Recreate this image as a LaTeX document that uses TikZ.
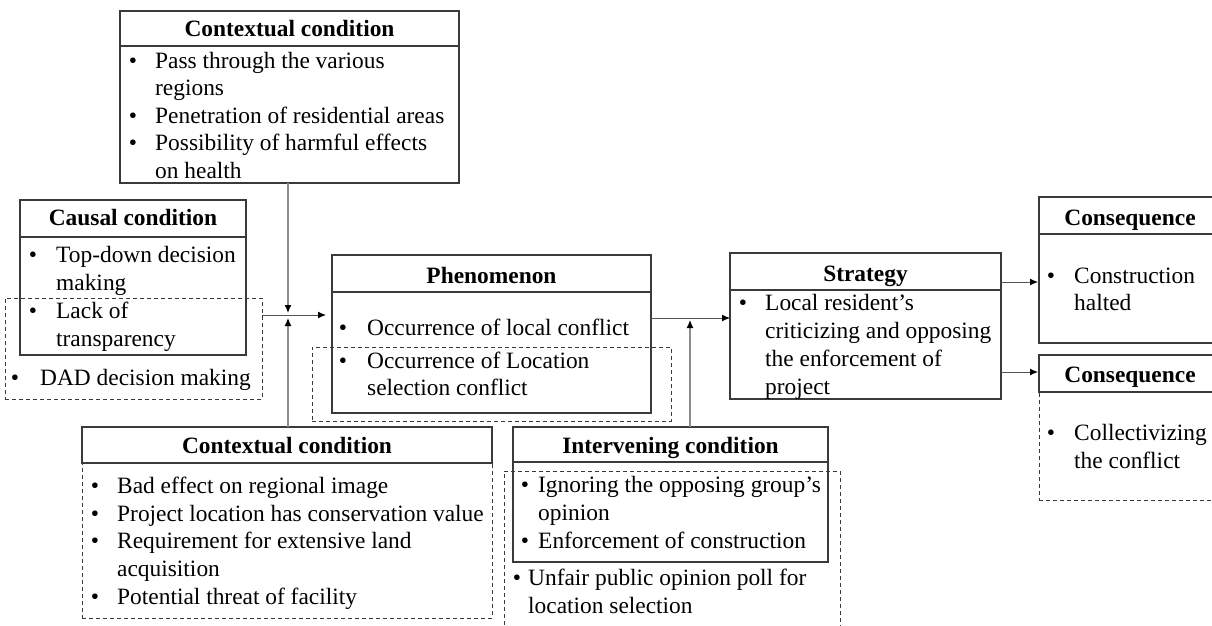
\documentclass[tikz,border=0pt]{standalone}
\usepackage{fontspec}
\setmainfont{Liberation Serif}
\usetikzlibrary{arrows.meta}
\definecolor{boxc}{HTML}{3A3A3A}
\definecolor{linec}{HTML}{555555}
\definecolor{grayc}{HTML}{8C8C8C}
\newcommand{\mytxt}[4]{\node[txt] (#1) at (#2,#3) {#4};}
\newcommand{\mybul}[3]{\node[bul] (#1) at (#2,#3) {\textbullet};}
\begin{document}
\begin{tikzpicture}[x=1pt,y=-1pt,
  box/.style={draw=boxc,line width=1.3pt,inner sep=0pt,outer sep=0pt,anchor=north west},
  dbox/.style={draw=boxc,line width=1pt,dash pattern=on 4pt off 3pt,inner sep=0pt,outer sep=0pt,anchor=north west},
  txt/.style={font=\fontsize{23.4}{28}\selectfont,inner sep=0pt,anchor=base west},
  bul/.style={font=\fontsize{23.4}{28}\selectfont,inner sep=0pt,anchor=base},
  ttl/.style={font=\fontsize{23.4}{28}\selectfont\bfseries,inner sep=0pt,anchor=base},
  arr/.style={draw=linec,line width=1pt,-{Latex[length=8pt,width=7pt,color=black]}},
  garr/.style={draw=grayc,line width=1.2pt,-{Latex[length=8pt,width=7pt,color=black]}},
]
\useasboundingbox (0,0) rectangle (1212,626);
\fill[white] (0,0) rectangle (1212,626);

% ---- Top contextual condition
\node[box,minimum width=339pt,minimum height=172pt] (ctx1) at (120,11) {};
\node[box,minimum width=339pt,minimum height=35pt] (ctx1h) at (120,11) {};
\node[ttl] (ctx1t) at (289.5,37) {Contextual condition};
\mybul{ctx1b1}{133}{68}\mytxt{ctx1a}{155}{68}{Pass through the various}
\mytxt{ctx1b}{155}{95.5}{regions}
\mybul{ctx1b2}{133}{123}\mytxt{ctx1c}{155}{123}{Penetration of residential areas}
\mybul{ctx1b3}{133}{150.5}\mytxt{ctx1d}{155}{150.5}{Possibility of harmful effects}
\mytxt{ctx1e}{155}{178}{on health}

% ---- Causal condition
\node[dbox,minimum width=257pt,minimum height=101pt] (caux) at (5,298) {};
\node[box,minimum width=226pt,minimum height=155pt] (cau) at (20,200) {};
\node[box,minimum width=226pt,minimum height=37pt] (cauh) at (20,200) {};
\node[ttl] (caut) at (133,225) {Causal condition};
\mybul{caub1}{33}{262}\mytxt{caua}{56}{262}{Top-down decision}
\mytxt{caub}{56}{290}{making}
\mybul{caub2}{33}{318}\mytxt{cauc}{56}{318}{Lack of}
\mytxt{caud}{56}{346}{transparency}
\mybul{caub3}{15}{385}\mytxt{caue}{40}{385}{DAD decision making}

% ---- Phenomenon
\node[dbox,minimum width=359pt,minimum height=74pt] (phex) at (312,347) {};
\node[box,minimum width=319pt,minimum height=158pt] (phe) at (332,255) {};
\node[box,minimum width=319pt,minimum height=37pt] (pheh) at (332,255) {};
\node[ttl] (phet) at (491.5,283) {Phenomenon};
\mybul{pheb1}{343}{335}\mytxt{phea}{367}{335}{Occurrence of local conflict}
\mybul{pheb2}{343}{368}\mytxt{pheb}{367}{368}{Occurrence of Location}
\mytxt{phec}{367}{395}{selection conflict}

% ---- Strategy
\node[box,minimum width=271pt,minimum height=146pt] (str) at (730,253) {};
\node[box,minimum width=271pt,minimum height=37pt] (strh) at (730,253) {};
\node[ttl] (strt) at (865.5,281) {Strategy};
\mybul{strb1}{743}{310}\mytxt{stra}{765}{310}{Local resident’s}
\mytxt{strb}{765}{338}{criticizing and opposing}
\mytxt{strc}{765}{366}{the enforcement of}
\mytxt{strd}{765}{394}{project}

% ---- Consequence 1
\node[box,minimum width=180pt,minimum height=146pt] (co1) at (1039,197) {};
\node[box,minimum width=180pt,minimum height=37pt] (co1h) at (1039,197) {};
\node[ttl] (co1t) at (1130,225) {Consequence};
\mybul{co1b1}{1051}{283}\mytxt{co1a}{1074}{283}{Construction}
\mytxt{co1b}{1074}{310}{halted}

% ---- Consequence 2
\node[dbox,minimum width=180pt,minimum height=108pt] (co2x) at (1039,392) {};
\node[box,minimum width=180pt,minimum height=37pt] (co2h) at (1039,355) {};
\node[ttl] (co2t) at (1130,382) {Consequence};
\mybul{co2b1}{1051}{440}\mytxt{co2a}{1074}{440}{Collectivizing}
\mytxt{co2b}{1074}{468}{the conflict}

% ---- Bottom contextual condition
\node[dbox,minimum width=410pt,minimum height=155pt] (ctx2x) at (82,463) {};
\node[box,minimum width=410pt,minimum height=36pt] (ctx2h) at (82,427) {};
\node[ttl] (ctx2t) at (287,453) {Contextual condition};
\mybul{ctx2b1}{95}{493}\mytxt{ctx2a}{117}{493}{Bad effect on regional image}
\mybul{ctx2b2}{95}{521}\mytxt{ctx2b}{117}{521}{Project location has conservation value}
\mybul{ctx2b3}{95}{548.5}\mytxt{ctx2c}{117}{548.5}{Requirement for extensive land}
\mytxt{ctx2d}{117}{576.5}{acquisition}
\mybul{ctx2b4}{95}{604.5}\mytxt{ctx2e}{117}{604.5}{Potential threat of facility}

% ---- Intervening condition
\node[dbox,minimum width=336pt,minimum height=200pt] (intx) at (504,471) {};
\node[box,minimum width=315pt,minimum height=135pt] (int) at (513,427) {};
\node[box,minimum width=315pt,minimum height=35pt] (inth) at (513,427) {};
\node[ttl] (intt) at (670.5,453) {Intervening condition};
\mybul{intb1}{525}{492}\mytxt{inta}{538}{492}{Ignoring the opposing group’s}
\mytxt{intb}{538}{520}{opinion}
\mybul{intb2}{525}{548}\mytxt{intc}{538}{548}{Enforcement of construction}
\mybul{intb3}{517}{585}\mytxt{intd}{528}{585}{Unfair public opinion poll for}
\mytxt{inte}{528}{613}{location selection}

% ---- Connectors
\coordinate (jL) at (288,315);
\coordinate (jLt) at (288,313);
\coordinate (jLb) at (288,318);
\draw[garr] (ctx1.south -| jLt) -- (jLt);
\draw[garr] (ctx2h.north -| jLb) -- (jLb);
\draw[arr,shorten >=6pt] (caux.east |- jL) -- (phe.west |- jL);
\coordinate (jR) at (690,318);
\coordinate (jRb) at (690,320);
\draw[arr] (phe.east |- jR) -- (str.west |- jR);
\draw[garr] (inth.north -| jRb) -- (jRb);
\coordinate (k1) at (1001,282);
\coordinate (k2) at (1001,372);
\draw[arr,shorten >=1pt] (str.east |- k1) -- (co1.west |- k1);
\draw[arr,shorten >=1pt] (str.east |- k2) -- (co2h.west |- k2);
\end{tikzpicture}
\end{document}
